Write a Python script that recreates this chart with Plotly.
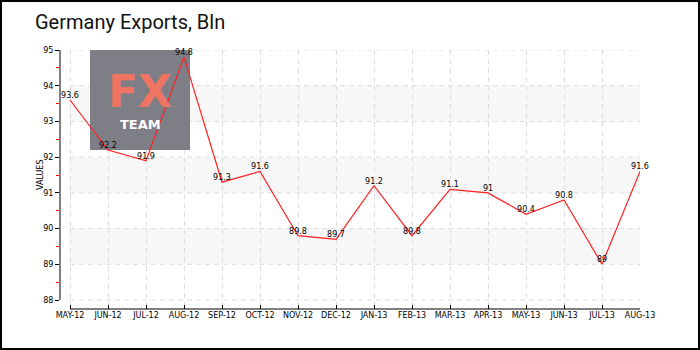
import plotly.graph_objects as go

months = ["MAY-12", "JUN-12", "JUL-12", "AUG-12", "SEP-12", "OCT-12", "NOV-12", "DEC-12",
          "JAN-13", "FEB-13", "MAR-13", "APR-13", "MAY-13", "JUN-13", "JUL-13", "AUG-13"]
values = [93.6, 92.2, 91.9, 94.8, 91.3, 91.6, 89.8, 89.7, 91.2, 89.8, 91.1, 91, 90.4, 90.8, 89, 91.6]
y_ticks = [88, 89, 90, 91, 92, 93, 94, 95]
bands = [(89, 90), (91, 92), (93, 94)]

W, H = 700, 350
L, R, T, B = 60, 640, 50, 309
pw, ph = R - L, B - T
n = len(months)
xpx = (n - 1) / (640 - 70)  # data units per pixel horizontally
ypx = 7 / 250.0

def px_x(p):
    return (p - L) / pw

def px_y(p):
    return (B - p) / ph

xs = list(range(n))
labels = [f"{v:g}" for v in values]

fig = go.Figure()
fig.add_trace(go.Scatter(
    x=xs, y=values, mode="lines+text", text=labels, textposition="top center",
    textfont=dict(family="DejaVu Sans", size=8, color="#000"),
    line=dict(color="#ff2020", width=1.2), hoverinfo="skip", cliponaxis=False))

shapes = []
# bands
for a, b in bands:
    shapes.append(dict(type="rect", xref="x", yref="y", x0=0, x1=n - 1, y0=a, y1=b,
                       fillcolor="#f7f7f7", line=dict(width=0), layer="below"))
# horizontal grid
for t in y_ticks:
    shapes.append(dict(type="line", xref="x", yref="y", x0=0, x1=n - 1, y0=t, y1=t,
                       line=dict(color="#dddddd", width=1, dash="5px,4px"), layer="below"))
# logo
shapes.append(dict(type="rect", xref="x", yref="y", x0=20 * xpx, x1=120 * xpx,
                   y0=95 - 100 * ypx, y1=95, fillcolor="#7a7a83", line=dict(width=0),
                   layer="between", opacity=0.97))
# axis lines
shapes.append(dict(type="line", xref="paper", yref="y", x0=0, x1=0, y0=88, y1=95,
                   line=dict(color="#000", width=1)))
shapes.append(dict(type="line", xref="x", yref="paper", x0=0, x1=n - 1, y0=0, y1=0,
                   line=dict(color="#000", width=1)))
# border
shapes.append(dict(type="rect", xref="paper", yref="paper", x0=px_x(1), x1=px_x(699),
                   y0=px_y(349), y1=px_y(1), line=dict(color="#000", width=2),
                   fillcolor="rgba(0,0,0,0)"))

annotations = [
    dict(text="Germany Exports, Bln", xref="paper", yref="paper", x=px_x(33), y=px_y(22),
         xanchor="left", yanchor="middle", showarrow=False,
         font=dict(family="Roboto", size=20, color="#111")),
    dict(text="VALUES", xref="paper", yref="paper", x=px_x(40), y=px_y(175),
         xanchor="center", yanchor="middle",
         textangle=-90, showarrow=False, font=dict(family="DejaVu Sans", size=8, color="#000")),
    dict(text="<b>FX</b>", xref="paper", yref="paper", x=px_x(140), y=px_y(91),
         xanchor="center", yanchor="middle",
         showarrow=False, font=dict(family="DejaVu Sans", size=44, color="#f07462")),
    dict(text="<b>TEAM</b>", xref="paper", yref="paper", x=px_x(140), y=px_y(124),
         xanchor="center", yanchor="middle",
         showarrow=False, font=dict(family="DejaVu Sans", size=13, color="#ffffff")),
]

fig.update_layout(
    width=W, height=H, autosize=False,
    margin=dict(l=L, r=W - R, t=T, b=H - B, pad=0),
    paper_bgcolor="white", plot_bgcolor="white",
    showlegend=False, shapes=shapes, annotations=annotations,
    xaxis=dict(range=[-10 * xpx, n - 1], tickmode="array", tickvals=xs, ticktext=months,
               showgrid=True, gridcolor="#dddddd", griddash="5px,4px", zeroline=False,
               ticks="inside", ticklen=4, tickcolor="#000", showline=False,
               tickfont=dict(family="DejaVu Sans", size=8, color="#000")),
    yaxis=dict(range=[88 - 9 * ypx, 95], tickmode="array", tickvals=y_ticks,
               showgrid=False, zeroline=False, ticks="outside", ticklen=4, tickcolor="#000",
               showline=False,
               tickfont=dict(family="DejaVu Sans", size=8, color="#000"),
               minor=dict(tickvals=[t + 0.5 for t in y_ticks[:-1]], ticks="outside",
                          ticklen=3, tickcolor="#ff0000", showgrid=False)),
)

fig.write_html("out.html")
